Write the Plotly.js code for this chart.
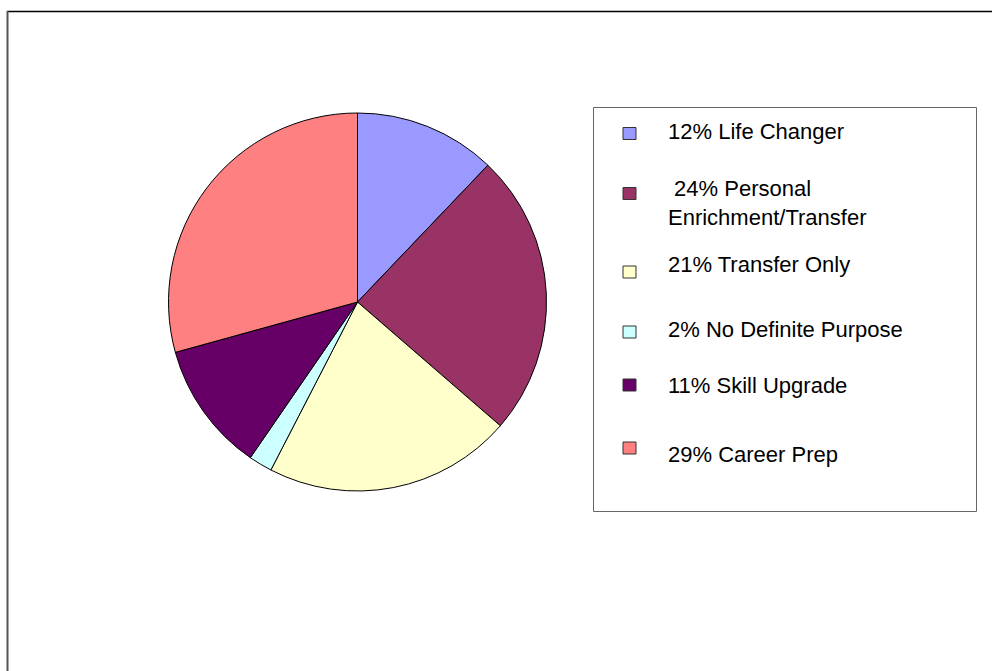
<!DOCTYPE html>
<html>
<head>
<meta charset="utf-8">
<script src="https://cdn.plot.ly/plotly-3.0.1.min.js"></script>
<style>
  html, body { margin: 0; padding: 0; background: #fff; }
  #chart { width: 992px; height: 671px; }
</style>
</head>
<body>
<div id="chart"></div>
<script>
// ---- data ----
const labels = ["12% Life Changer", " 24% Personal<br>Enrichment/Transfer", "21% Transfer Only",
                "2% No Definite Purpose", "11% Skill Upgrade", "29% Career Prep"];
const values = [12, 24, 21, 2, 11, 29];
const colors = ["#9999FF", "#993366", "#FFFFCC", "#CCFFFF", "#660066", "#FF8080"];

// ---- layout helpers (pixel -> paper) ----
const W = 992, H = 671;
const px = x => x / W;
const py = y => 1 - y / H;

// pie geometry
const cx = 357.5, cy = 302, r = 189;

// legend layout (pixel positions)
const legTextX = 666;
const legTextY = [131.5, 203, 264, 329.5, 385, 454];
const legSwatchY = [133.5, 193.5, 272, 332, 385, 448];
const swX0 = 623, swX1 = 636, swH = 12;

const annotations = [];
const shapes = [];

// outer frame
shapes.push({type: "line", xref: "paper", yref: "paper", x0: px(7), x1: px(1100), y0: py(11.5), y1: py(11.5),
             line: {color: "#000", width: 1.5}});
shapes.push({type: "line", xref: "paper", yref: "paper", x0: px(7.5), x1: px(7.5), y0: py(11), y1: py(800),
             line: {color: "#555", width: 2}});
// legend box
shapes.push({type: "rect", xref: "paper", yref: "paper", x0: px(593.5), x1: px(976.5), y0: py(511.5), y1: py(107.5),
             line: {color: "#666", width: 1}, fillcolor: "rgba(0,0,0,0)"});

labels.forEach((lab, i) => {
  annotations.push({
    text: lab.replace(/^ /, "\u00A0"),
    xref: "paper", yref: "paper",
    x: px(legTextX), y: py(legTextY[i]),
    xanchor: "left", yanchor: "middle", align: "left",
    showarrow: false,
    font: {family: "Liberation Sans, Arial, sans-serif", size: 22, color: "#000"}
  });
  shapes.push({
    type: "rect", xref: "paper", yref: "paper",
    x0: px(swX0), x1: px(swX1),
    y0: py(legSwatchY[i] + swH / 2), y1: py(legSwatchY[i] - swH / 2),
    fillcolor: colors[i], line: {color: "#333", width: 1}
  });
});

const trace = {
  type: "pie",
  labels: labels,
  values: values,
  sort: false,
  direction: "clockwise",
  rotation: 0,
  textinfo: "none",
  hoverinfo: "label",
  marker: {colors: colors, line: {color: "#000", width: 1}},
  domain: {x: [px(cx - r), px(cx + r)], y: [py(cy + r), py(cy - r)]}
};

const layout = {
  width: W, height: H,
  margin: {l: 0, r: 0, t: 0, b: 0},
  paper_bgcolor: "#fff",
  showlegend: false,
  shapes: shapes,
  annotations: annotations,
  font: {family: "Liberation Sans, Arial, sans-serif"}
};

Plotly.newPlot("chart", [trace], layout, {displayModeBar: false, staticPlot: true});
</script>
</body>
</html>
